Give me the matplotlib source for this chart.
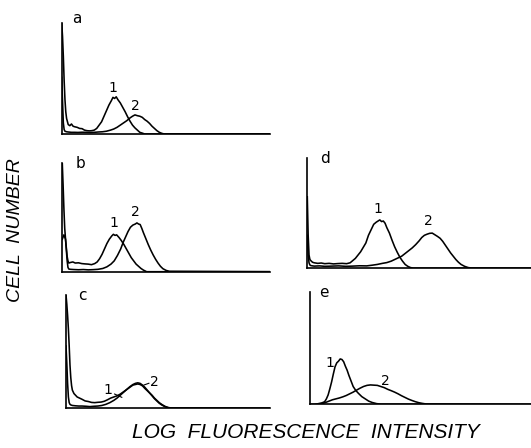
import matplotlib
matplotlib.use("Agg")
import matplotlib.pyplot as plt

# channel (x) and cell count (y, % of full scale) for each histogram
a1_ch = [0, 1, 2, 3, 4, 5, 6, 8, 10, 12, 14, 16, 19, 22, 25, 28, 31, 34, 37, 40, 43, 46, 49, 52, 55, 58, 61, 63, 65, 67, 69, 72, 75, 78, 81, 84, 87, 90, 93, 96, 99, 102, 256]
a1_n = [100, 88, 70, 48, 31, 20, 14, 8.5, 7.5, 9, 7, 6.5, 6, 5, 4.8, 3.5, 3, 2.8, 3, 3.5, 5, 8, 11, 16, 21, 26, 30, 33, 32, 33.5, 31, 28, 24, 20, 15.5, 11.5, 8, 5.5, 3.5, 1.5, 0.8, 0, 0]
a2_ch = [0, 1, 2, 3, 4, 6, 8, 12, 16, 20, 25, 30, 35, 40, 45, 50, 55, 60, 64, 68, 72, 76, 80, 84, 87, 90, 93, 96, 99, 102, 105, 108, 111, 114, 117, 120, 123, 126, 256]
a2_n = [51, 30, 10, 4, 2.5, 2, 1.8, 1.5, 1.5, 1.4, 1.6, 1.5, 1.3, 1.5, 1.8, 2, 2.5, 3.5, 4.5, 6, 8, 10, 12, 14.5, 16, 17.2, 16.5, 16, 15, 13, 11.5, 9.5, 7, 5, 3, 1.5, 0.6, 0, 0]

b1_ch = [0, 1, 2, 3, 4, 5, 6, 7, 8, 10, 13, 16, 20, 24, 28, 32, 36, 40, 43, 46, 49, 52, 55, 58, 61, 63, 65, 67, 70, 73, 76, 79, 82, 85, 88, 91, 94, 97, 100, 104, 256]
b1_n = [100, 80, 58, 40, 30, 22, 14, 10, 8, 8.5, 9, 8, 8.2, 7.5, 7.2, 7, 6.5, 7.5, 9, 12, 16, 21, 26, 30, 33, 34.5, 33.5, 34, 31.5, 28.5, 25, 21, 17, 13, 10, 7, 5, 3, 1.5, 0, 0]
b2_ch = [0, 2, 4, 5, 6, 7, 8, 10, 14, 20, 26, 32, 38, 44, 50, 55, 60, 64, 68, 72, 75, 78, 81, 84, 87, 90, 92, 94, 96, 98, 100, 103, 106, 109, 112, 115, 118, 121, 124, 128, 132, 256]
b2_n = [30, 34, 30, 20, 10, 4, 2.5, 2.2, 2, 1.8, 2, 1.7, 1.9, 2.2, 3, 4.5, 7, 10, 15, 21, 27, 32, 37, 41, 43, 44, 45, 44, 43.5, 40, 36, 30.5, 25, 20, 15.5, 11.5, 8, 5, 2.8, 1.2, 0.4, 0]

c1_ch = [0, 1, 2, 3, 4, 5, 6, 7, 8, 10, 12, 14, 17, 20, 24, 28, 32, 36, 40, 44, 48, 52, 56, 60, 64, 68, 72, 76, 80, 84, 87, 90, 93, 96, 99, 102, 105, 108, 111, 114, 117, 120, 124, 128, 132, 256]
c1_n = [100, 92, 82, 70, 55, 38, 27, 20, 16, 13, 11.5, 10, 9, 8, 6.5, 6, 5.2, 5, 5.3, 5.5, 6.2, 7.5, 9, 10, 11, 12.5, 14.5, 16.5, 18.5, 20.5, 21, 21.5, 21, 19.8, 17.5, 15.5, 13.5, 11.5, 9, 7, 5, 3.5, 1.8, 0.7, 0.3, 0]
c2_ch = [0, 1, 2, 3, 4, 5, 6, 8, 12, 16, 20, 25, 30, 35, 40, 45, 50, 55, 60, 64, 68, 72, 76, 80, 84, 87, 90, 93, 96, 99, 102, 105, 108, 111, 114, 117, 120, 124, 128, 132, 256]
c2_n = [55, 40, 22, 10, 5, 3.5, 3, 2.5, 2.2, 2, 2, 1.8, 1.5, 1.8, 2, 2.5, 3.5, 5, 7, 9, 11.5, 14, 16.5, 19, 21, 22, 22.5, 22, 20.5, 18.5, 16, 13.5, 11, 8.5, 6.5, 4.5, 3, 1.5, 0.6, 0.2, 0]

d1_ch = [0, 1, 2, 3, 4, 6, 8, 12, 16, 20, 25, 30, 35, 40, 45, 49, 52, 55, 58, 61, 64, 67, 70, 73, 76, 79, 81, 83, 85, 87, 89, 91, 94, 97, 100, 103, 106, 109, 112, 115, 118, 121, 256]
d1_n = [65, 30, 12, 8, 7, 5.5, 5, 4.5, 4.8, 4.2, 4.5, 4, 4.3, 4.5, 4.2, 5, 7, 9, 12, 15, 19, 23, 30, 35, 40, 42, 43, 44, 42.5, 43, 41, 37, 32, 25.5, 19.5, 14.5, 10, 6.5, 3.5, 1.8, 0.7, 0.2, 0]
d2_ch = [0, 1, 2, 3, 4, 6, 8, 14, 20, 28, 36, 44, 52, 60, 68, 74, 80, 86, 91, 96, 100, 104, 108, 112, 116, 120, 124, 128, 131, 134, 137, 140, 143, 146, 149, 152, 155, 158, 161, 164, 167, 170, 173, 176, 180, 184, 188, 256]
d2_n = [30, 12, 5, 3, 2.5, 2.2, 2, 2.2, 1.8, 2, 2.2, 1.8, 2, 2.3, 2.2, 2.8, 3.5, 4.5, 5.2, 6.5, 8, 9.5, 11, 13.5, 16, 18.5, 21.5, 25, 28, 30, 31, 31.8, 32, 30.5, 29, 27.3, 24.5, 21, 17.5, 14, 11, 8, 5.5, 3.5, 1.8, 0.7, 0.2, 0]

e1_ch = [0, 5, 10, 14, 17, 19, 21, 23, 25, 27, 29, 31, 33, 35, 37, 39, 41, 43, 45, 47, 50, 53, 56, 60, 64, 68, 72, 77, 82, 256]
e1_n = [0, 0, 0.8, 1.5, 2.5, 5, 8.5, 14, 20, 27, 33.5, 37, 38.5, 40.5, 40, 38, 34, 30.5, 26, 22, 16, 12.5, 10, 7, 5, 3, 1.8, 0.8, 0.3, 0]
e2_ch = [0, 10, 14, 18, 22, 26, 30, 34, 38, 42, 46, 50, 54, 58, 62, 66, 70, 74, 78, 82, 86, 90, 94, 98, 102, 106, 110, 114, 118, 122, 126, 130, 135, 256]
e2_n = [0, 0, 0.8, 1.8, 3, 4.2, 5, 5.8, 6.8, 8, 9.5, 11, 12.8, 14.5, 16, 17, 17.4, 17.2, 17, 16, 15, 13.5, 12.3, 11, 9.5, 7.8, 6.3, 4.8, 3.6, 2.5, 1.6, 1, 0.4, 0]

panel_letters = ["a", "b", "c", "d", "e"]

fig = plt.figure(figsize=(5.31, 4.48), dpi=100)

# axes boxes in figure fraction
boxes = {
    "a": [0.1162, 0.7009, 0.3923, 0.2478],
    "b": [0.1173, 0.3935, 0.3911, 0.2420],
    "c": [0.1243, 0.0886, 0.3842, 0.2529],
    "d": [0.5787, 0.4011, 0.4213, 0.2455],
    "e": [0.5838, 0.0971, 0.4162, 0.2511],
}
curves = {
    "a": [(a1_ch, a1_n), (a2_ch, a2_n)],
    "b": [(b1_ch, b1_n), (b2_ch, b2_n)],
    "c": [(c1_ch, c1_n), (c2_ch, c2_n)],
    "d": [(d1_ch, d1_n), (d2_ch, d2_n)],
    "e": [(e1_ch, e1_n), (e2_ch, e2_n)],
}
# panel letter position (axes fraction)
letter_pos = {
    "a": (0.072, 1.04),
    "b": (0.086, 1.0),
    "c": (0.082, 1.0),
    "d": (0.08, 1.0),
    "e": (0.065, 1.0),
}
# where the "1" / "2" tags sit (channel, count)
tags = {
    "a": [(63, 41), (90, 25)],
    "b": [(63, 45), (90, 55)],
    "c": [(53, 16), (111, 23.5)],
    "d": [(81, 54), (138, 43)],
    "e": [(23, 37), (87, 21)],
}

for k in panel_letters:
    ax = fig.add_axes(boxes[k])
    for x, y in curves[k]:
        ax.plot(x, y, color="black", lw=1.15)
    ax.set_xlim(0, 256)
    ax.set_ylim(0, 100)
    for s in ["top", "right"]:
        ax.spines[s].set_visible(False)
    for s in ["left", "bottom"]:
        ax.spines[s].set_linewidth(1.2)
    ax.set_xticks([])
    ax.set_yticks([])
    ax.patch.set_alpha(0)
    lx, ly = letter_pos[k]
    ax.text(lx, ly, k, transform=ax.transAxes, fontsize=11,
            ha="center", va="center")
    for i, (tx, ty) in enumerate(tags[k]):
        ax.text(tx, ty, str(i + 1), fontsize=10, ha="center", va="center")
    if k == "c":
        ax.plot([61, 70], [12.6, 9.7], color="black", lw=0.8)
        ax.plot([98, 104], [20.6, 22.1], color="black", lw=0.8)

fig.text(0.030, 0.487, "CELL  NUMBER", rotation=90, fontsize=14,
         style="italic", family="Liberation Sans", ha="center", va="center")
fig.text(0.576, 0.035, "LOG  FLUORESCENCE  INTENSITY", fontsize=15,
         style="italic", family="Liberation Sans", ha="center", va="center")

fig.savefig("out.png", dpi=100)
